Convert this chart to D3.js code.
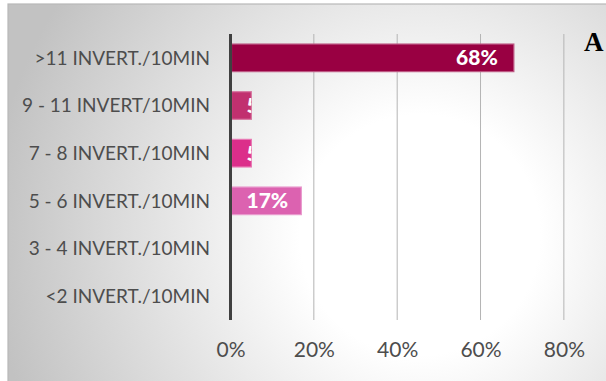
<!DOCTYPE html>
<html><head><meta charset="utf-8">
<script src="https://cdn.jsdelivr.net/npm/d3@7"></script>
<style>
html,body{margin:0;padding:0;background:#fff;overflow:hidden;}
svg{display:block;}
</style></head>
<body><svg id="c" width="606" height="381"></svg>
<script>
const categories = [">11 INVERT./10MIN","9 - 11 INVERT/10MIN","7 - 8 INVERT./10MIN","5 - 6 INVERT./10MIN","3 - 4 INVERT./10MIN","<2 INVERT./10MIN"];
const values = [68, 5, 5, 17, 0, 0];
const barColors = ["#990042","#c1306f","#dc2e8a","#dc62b0","#e88cc6","#f0b0d8"];
const xTicks = [0,20,40,60,80];
const panelLetter = "A";

const svg = d3.select("#c");
const defs = svg.append("defs");
const rg = defs.append("radialGradient").attr("id","bg").attr("gradientUnits","userSpaceOnUse")
  .attr("cx",420).attr("cy",235).attr("r",430);
rg.append("stop").attr("offset","0").attr("stop-color","#ffffff");
rg.append("stop").attr("offset","0.28").attr("stop-color","#ffffff");
rg.append("stop").attr("offset","1").attr("stop-color","#c2c2c2");

svg.append("rect").attr("x",8).attr("y",4).attr("width",610).attr("height",390)
  .attr("fill","url(#bg)").attr("stroke","#b8b8b8").attr("stroke-width",1.2);

const x = d3.scaleLinear().domain([0,100]).range([230.5,647.2]);
const y = d3.scaleBand().domain(categories).range([34,320]).paddingInner(0.4).paddingOuter(0.2);

const font = "Lato, 'Open Sans', sans-serif";

// gridlines
svg.append("g").selectAll("line").data(xTicks.filter(d=>d>0)).join("line")
  .attr("x1",d=>x(d)).attr("x2",d=>x(d)).attr("y1",34).attr("y2",320)
  .attr("stroke","#b4b4b4").attr("stroke-width",1);

// bars
const rows = categories.map((c,i)=>({c, v:values[i], col:barColors[i], i}));
rows.forEach(r=>{
  defs.append("clipPath").attr("id","clip"+r.i).append("rect")
    .attr("x",x(0)).attr("y",y(r.c)).attr("width",Math.max(0,x(r.v)-x(0))).attr("height",y.bandwidth());
});
const bars = svg.append("g");
bars.selectAll("rect").data(rows.filter(r=>r.v>0)).join("rect")
  .attr("x",x(0)+1).attr("y",d=>y(d.c)+0.5)
  .attr("width",d=>x(d.v)-x(0)-1).attr("height",y.bandwidth()-1)
  .attr("fill",d=>d.col)
  .attr("stroke",d=>d3.interpolateRgb(d.col,"#ffffff")(0.35)).attr("stroke-width",1.2);

// bar labels
const lab = svg.append("g");
rows.filter(r=>r.v>0).forEach(r=>{
  const t = lab.append("text")
    .attr("clip-path","url(#clip"+r.i+")")
    .attr("font-family",font).attr("font-weight","900")
    .attr("font-size",21).attr("fill","#ffffff")
    .attr("y",y(r.c)+y.bandwidth()/2).attr("dy","0.36em")
    .text(r.v+"%");
  const w = t.node().getComputedTextLength();
  let tx = x(r.v)-16-w;
  if (tx < x(0)+16) tx = x(0)+16;
  t.attr("x",tx);
});

// y axis line
svg.append("line").attr("x1",x(0)).attr("x2",x(0)).attr("y1",34).attr("y2",320)
  .attr("stroke","#404040").attr("stroke-width",3);

// y labels
svg.append("g").selectAll("text").data(categories).join("text")
  .attr("x",210).attr("y",d=>y(d)+y.bandwidth()/2).attr("dy","0.36em")
  .attr("text-anchor","end").attr("font-family",font)
  .attr("font-size",19).attr("fill","#4d4d4d").text(d=>d);

// x axis tick labels
const xAxis = d3.axisBottom(x).tickValues(xTicks).tickFormat(d=>d+"%").tickSize(0).tickPadding(0);
const gx = svg.append("g").attr("transform","translate(0,342)").call(xAxis);
gx.select(".domain").remove();
gx.selectAll("text").attr("font-family",font).attr("font-size",21)
  .attr("fill","#4d4d4d").attr("dy","0.71em");

// panel letter
svg.append("text").attr("x",584).attr("y",51).attr("font-family","'Liberation Serif', 'DejaVu Serif', serif")
  .attr("font-weight","bold").attr("font-size",27).attr("fill","#000").text(panelLetter);
</script></body></html>
